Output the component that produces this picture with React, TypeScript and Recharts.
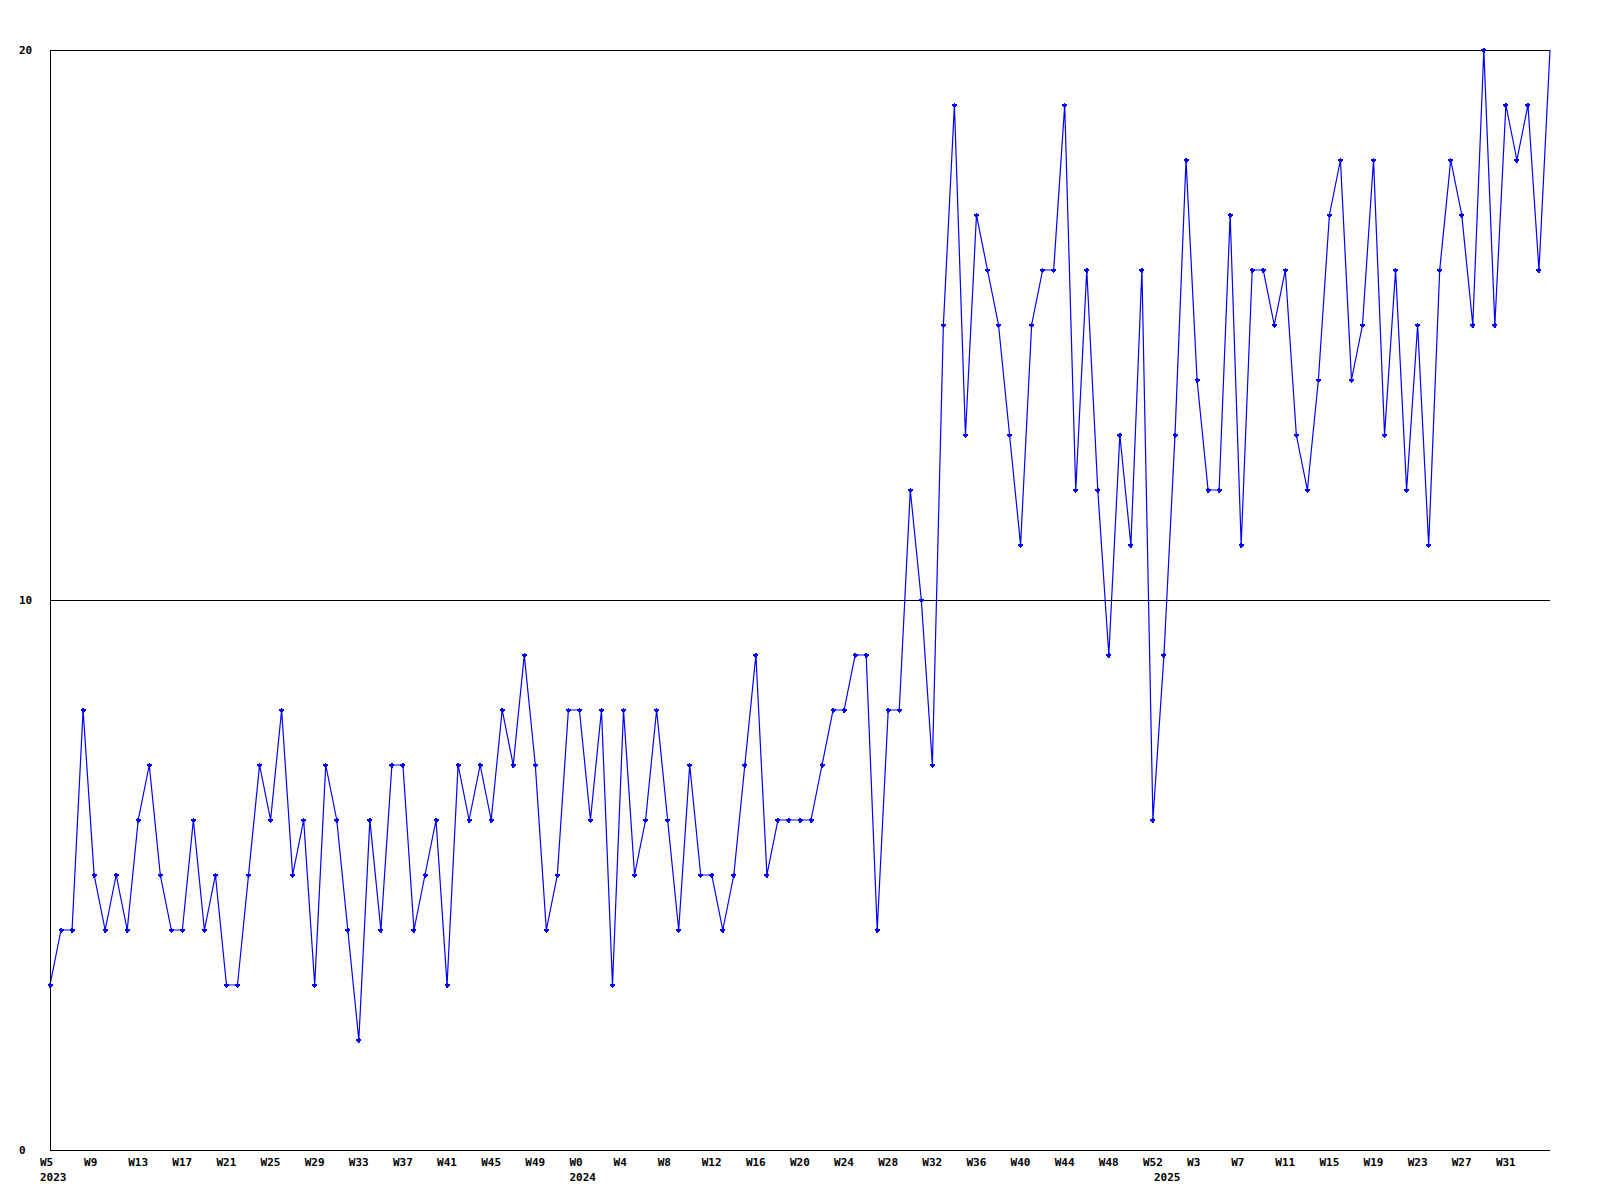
import React from "react";
import { LineChart, Line, XAxis, YAxis, CartesianGrid } from "recharts";

const weeks2023 = ["W5","W6","W7","W8","W9","W10","W11","W12","W13","W14","W15","W16","W17","W18","W19","W20","W21","W22","W23","W24","W25","W26","W27","W28","W29","W30","W31","W32","W33","W34","W35","W36","W37","W38","W39","W40","W41","W42","W43","W44","W45","W46","W47","W48","W49","W50","W51","W52"];
const values2023 = [3,4,4,8,5,4,5,4,6,7,5,4,4,6,4,5,3,3,5,7,6,8,5,6,3,7,6,4,2,6,4,7,7,4,5,6,3,7,6,7,6,8,7,9,7,4,5,8];

const weeks2024 = ["W0","W1","W2","W3","W4","W5","W6","W7","W8","W9","W10","W11","W12","W13","W14","W15","W16","W17","W18","W19","W20","W21","W22","W23","W24","W25","W26","W27","W28","W29","W30","W31","W32","W33","W34","W35","W36","W37","W38","W39","W40","W41","W42","W43","W44","W45","W46","W47","W48","W49","W50","W51","W52"];
const values2024 = [8,6,8,3,8,5,6,8,6,4,7,5,5,4,5,7,9,5,6,6,6,6,7,8,8,9,9,4,8,8,12,10,7,15,19,13,17,16,15,13,11,15,16,16,19,12,16,12,9,13,11,16,6];

const weeks2025 = ["W0","W1","W2","W3","W4","W5","W6","W7","W8","W9","W10","W11","W12","W13","W14","W15","W16","W17","W18","W19","W20","W21","W22","W23","W24","W25","W26","W27","W28","W29","W30","W31","W32","W33","W34","W35"];
const values2025 = [9,13,18,14,12,12,17,11,16,16,15,16,13,12,14,17,18,14,15,18,13,16,12,15,11,16,18,17,15,20,15,19,18,19,16,20];

const years = ["2023", "2024", "2025"];
const yTicks = [0, 10, 20];

const groups = [
  { year: years[0], weeks: weeks2023, values: values2023 },
  { year: years[1], weeks: weeks2024, values: values2024 },
  { year: years[2], weeks: weeks2025, values: values2025 },
];

const data: { key: string; week: string; year: string; first: boolean; value: number }[] = [];
groups.forEach((g) => {
  g.weeks.forEach((w, i) => {
    data.push({ key: g.year + "-" + w, week: w, year: g.year, first: i === 0, value: g.values[i] });
  });
});

const FONT = "'DejaVu Sans Mono', monospace";

const XTick = (props: any) => {
  const { x, y, payload } = props;
  const idx = payload.index;
  const row = data[idx];
  if (!row) return null;
  return (
    <g>
      {idx % 4 === 0 && idx < data.length - 1 && (
        <text x={x - 10} y={y + 16} textAnchor="start" fontFamily={FONT} fontWeight="bold" fontSize={11} fill="#000">
          {row.week}
        </text>
      )}
      {row.first && (
        <text x={x - 10} y={y + 31} textAnchor="start" fontFamily={FONT} fontWeight="bold" fontSize={11} fill="#000">
          {row.year}
        </text>
      )}
    </g>
  );
};

const YTick = (props: any) => {
  const { y, payload } = props;
  return (
    <text x={19} y={y + 4} textAnchor="start" fontFamily={FONT} fontWeight="bold" fontSize={11} fill="#000">
      {payload.value}
    </text>
  );
};

const Marker = (props: any) => {
  const { cx, cy, index } = props;
  if (cx == null || cy == null) return null;
  if (index === data.length - 1) return <g />;
  return (
    <g shapeRendering="crispEdges">
      <path d={`M${cx - 2.5},${cy} H${cx + 2.5} M${cx},${cy - 2.5} V${cy + 2.5}`} stroke="#0000ff" strokeWidth={1.5} />
      <rect x={cx - 1.5} y={cy - 1.5} width={3} height={3} fill="#0000ff" />
    </g>
  );
};

export default function App() {
  return (
    <div style={{ position: "absolute", left: 0, top: 0, width: 1600, height: 1200, background: "#fff" }}>
      <LineChart width={1600} height={1200} data={data} margin={{ top: 50, right: 50, bottom: 0, left: 0 }}>
        <CartesianGrid vertical={false} stroke="#000" strokeWidth={1} shapeRendering="crispEdges" />
        <XAxis
          dataKey="key"
          interval={0}
          tick={<XTick />}
          tickLine={false}
          tickSize={0}
          tickMargin={0}
          axisLine={{ stroke: "#000", strokeWidth: 1, shapeRendering: "crispEdges" }}
          height={50}
        />
        <YAxis
          domain={[0, 20]}
          ticks={yTicks}
          tick={<YTick />}
          tickLine={false}
          axisLine={{ stroke: "#000", strokeWidth: 1, shapeRendering: "crispEdges" }}
          width={50}
          interval={0}
        />
        <Line
          type="linear"
          dataKey="value"
          stroke="#0000ff"
          strokeWidth={1.2}
          dot={<Marker />}
          activeDot={false}
          isAnimationActive={false}
        />
      </LineChart>
    </div>
  );
}
